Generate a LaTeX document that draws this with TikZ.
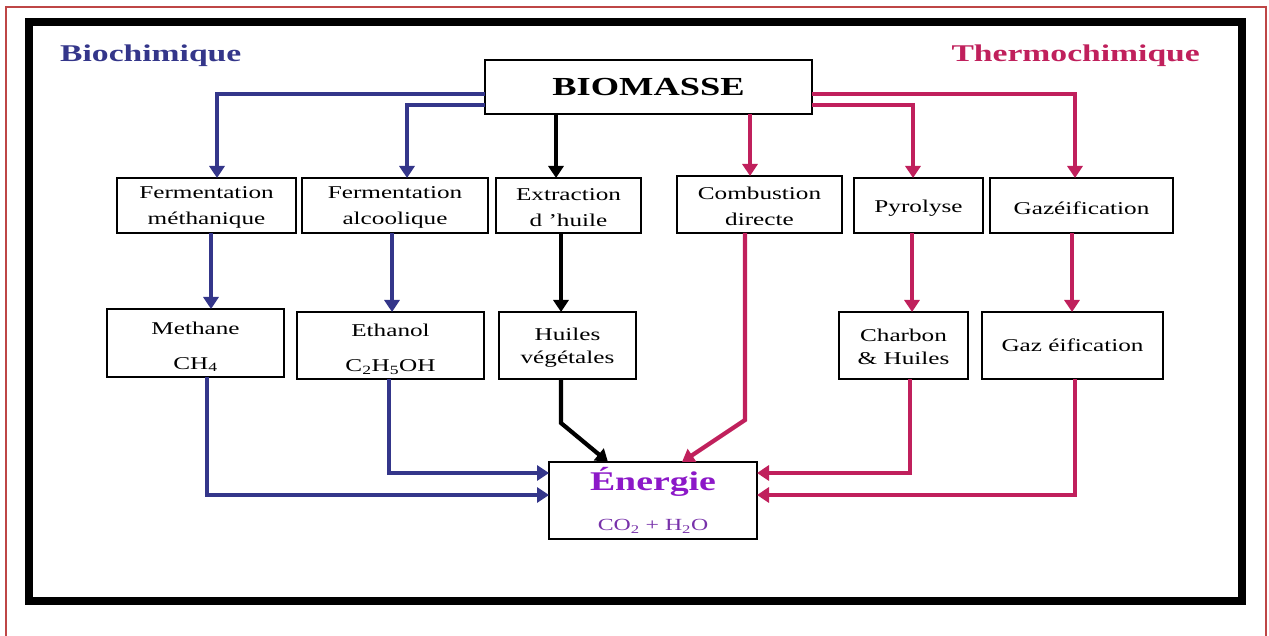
\documentclass[tikz,border=0pt]{standalone}
\usepackage{fontspec}
\setmainfont[FakeStretch=1.4]{Liberation Serif}
\usetikzlibrary{arrows.meta}
\definecolor{bluec}{RGB}{52,54,138}
\definecolor{crim}{RGB}{192,32,92}
\definecolor{purp}{RGB}{140,24,200}
\definecolor{purp2}{RGB}{120,50,170}
\definecolor{redframe}{RGB}{190,70,70}
\begin{document}
\begin{tikzpicture}[x=1pt,y=-1pt,
  box/.style={draw=black, line width=2.6pt, inner sep=0pt, outer sep=0pt, align=center,
    font=\fontsize{18}{26}\selectfont, fill=white},
  con/.style={line width=4.2pt, -{Triangle[width=15pt,length=12pt]}},
  bcon/.style={con, draw=bluec},
  ccon/.style={con, draw=crim},
  kcon/.style={con, draw=black},
  ttl/.style={font=\fontsize{24}{28}\selectfont\bfseries, inner sep=0pt}]
\useasboundingbox (0,0) rectangle (1269,636);
\fill[white] (0,0) rectangle (1269,636);
% frames
\draw[redframe, line width=1.5pt] (6,640) -- (6,7) -- (1266,7) -- (1266,640);
\draw[line width=8pt] (29,22) rectangle (1242,601);
% titles
\node[ttl, text=bluec, anchor=base west] (tb) at (60,62) {Biochimique};
\node[ttl, text=crim, anchor=base east] (tt) at (1200,62) {Thermochimique};
% boxes
\node[box, minimum width=327, minimum height=54, font=\fontsize{26}{30}\selectfont\bfseries] (bio) at (648.5,87) {BIOMASSE};
\node[box, minimum width=179, minimum height=55] (fm) at (206.5,205.5) {\rule{0pt}{16pt}Fermentation\\méthanique};
\node[box, minimum width=186, minimum height=55] (fa) at (395,205.5) {\rule{0pt}{16pt}Fermentation\\alcoolique};
\node[box, minimum width=145, minimum height=55] (ex) at (568.5,205.5) {\rule{0pt}{16pt}Extraction\\d 'huile};
\node[box, minimum width=165, minimum height=57] (co) at (759.5,204.5) {\rule{0pt}{16pt}Combustion\\directe};
\node[box, minimum width=129, minimum height=55] (py) at (918.5,205.5) {\rule{0pt}{18pt}Pyrolyse};
\node[box, minimum width=183, minimum height=55] (ga) at (1081.5,205.5) {\rule{0pt}{18pt}Gazéification};
\node[box, minimum width=177, minimum height=68, font=\fontsize{18}{35}\selectfont] (me) at (195.5,343) {\rule{0pt}{20pt}Methane\\CH\textsubscript{4}};
\node[box, minimum width=187, minimum height=67, font=\fontsize{18}{35}\selectfont] (et) at (390.5,345.5) {\rule{0pt}{20pt}Ethanol\\C\textsubscript{2}H\textsubscript{5}OH};
\node[box, minimum width=137, minimum height=67, font=\fontsize{18}{23}\selectfont] (hu) at (567.5,345.5) {\rule{0pt}{16pt}Huiles\\végétales};
\node[box, minimum width=129, minimum height=67, font=\fontsize{18}{23}\selectfont] (ch) at (903.5,345.5) {\rule{0pt}{16pt}Charbon\\\&~Huiles};
\node[box, minimum width=181, minimum height=67] (g2) at (1072.5,345.5) {Gaz éification};
\node[box, minimum width=208, minimum height=77, font=\fontsize{17}{40}\selectfont] (en) at (653,500.5)
  {{\fontsize{27}{30}\selectfont\bfseries\color{purp}Énergie}\\{\color{purp2}CO\textsubscript{2} + H\textsubscript{2}O}};
% connectors from BIOMASSE
\draw[bcon] ([yshift=-7]bio.west) -| (fm.north -| 217,0);
\draw[bcon] ([yshift=-18]bio.west) -| (fa.north -| 407,0);
\draw[kcon] (bio.south -| 556,0) -- (ex.north -| 556,0);
\draw[ccon] (bio.south -| 750,0) -- (co.north -| 750,0);
\draw[ccon] ([yshift=-18]bio.east) -| (py.north -| 913,0);
\draw[ccon] ([yshift=-7]bio.east) -| (ga.north -| 1075,0);
% row 1 -> row 2
\draw[bcon] (fm.south -| 211,0) -- (me.north -| 211,0);
\draw[bcon] (fa.south -| 392,0) -- (et.north -| 392,0);
\draw[kcon] (ex.south -| 561,0) -- (hu.north -| 561,0);
\draw[ccon] (py.south -| 912,0) -- (ch.north -| 912,0);
\draw[ccon] (ga.south -| 1072,0) -- (g2.north -| 1072,0);
% to Energie
\draw[bcon] (me.south -| 207,0) |- (en.west |- 0,495);
\draw[bcon] (et.south -| 389,0) |- (en.west |- 0,473);
\draw[kcon] (hu.south -| 561,0) -- (561,423) -- (en.north -| 608,0);
\draw[ccon] (co.south -| 745,0) -- (745,420) -- (en.north -| 682,0);
\draw[ccon] (ch.south -| 910,0) |- (en.east |- 0,473);
\draw[ccon] (g2.south -| 1075,0) |- (en.east |- 0,495);
\end{tikzpicture}
\end{document}
